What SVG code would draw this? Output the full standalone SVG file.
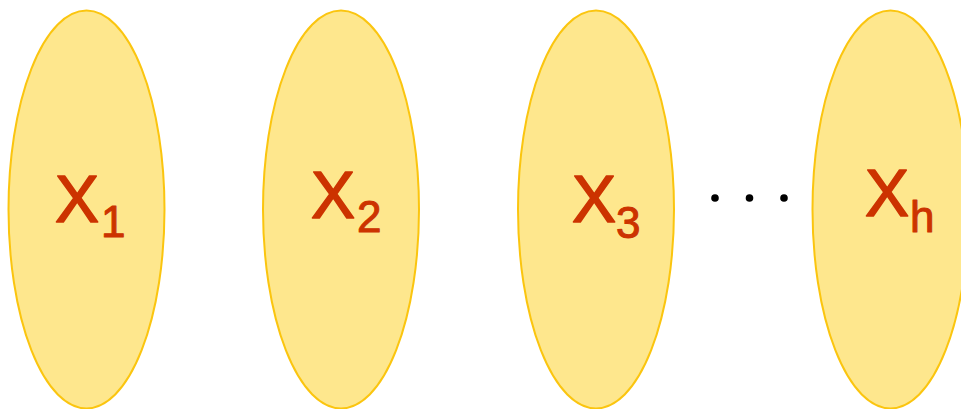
<svg xmlns="http://www.w3.org/2000/svg" width="961" height="409" viewBox="0 0 961 409">
<style>
.set{fill:#FEE78D;stroke:#FBC50F;stroke-width:2}
.lbl{font-family:"Liberation Sans",Arial,sans-serif;fill:#CC3300;stroke:#CC3300;stroke-width:1.6;stroke-linejoin:round;font-size:66px}
.sub{font-size:44px;stroke-width:1}
.dot{fill:#000}
</style>
<rect width="961" height="409" fill="#fff"/>
<g id="x1"><ellipse class="set" cx="86.5" cy="209.5" rx="78" ry="199"/><text class="lbl" x="55" y="222">X<tspan class="sub" x="101" y="237">1</tspan></text></g>
<g id="x2"><ellipse class="set" cx="341" cy="209.5" rx="78" ry="199"/><text class="lbl" x="311" y="218">X<tspan class="sub" x="357" y="232">2</tspan></text></g>
<g id="x3"><ellipse class="set" cx="596" cy="209.5" rx="78" ry="199"/><text class="lbl" x="572" y="222">X<tspan class="sub" x="616" y="238">3</tspan></text></g>
<g id="dots"><circle class="dot" cx="715" cy="198" r="3.8"/><circle class="dot" cx="749.5" cy="198" r="3.8"/><circle class="dot" cx="784" cy="198" r="3.8"/></g>
<g id="xh"><ellipse class="set" cx="890.5" cy="209.5" rx="78" ry="199"/><text class="lbl" x="865" y="216">X<tspan class="sub" x="910" y="232">h</tspan></text></g>
<g id="connectors"/>
</svg>
